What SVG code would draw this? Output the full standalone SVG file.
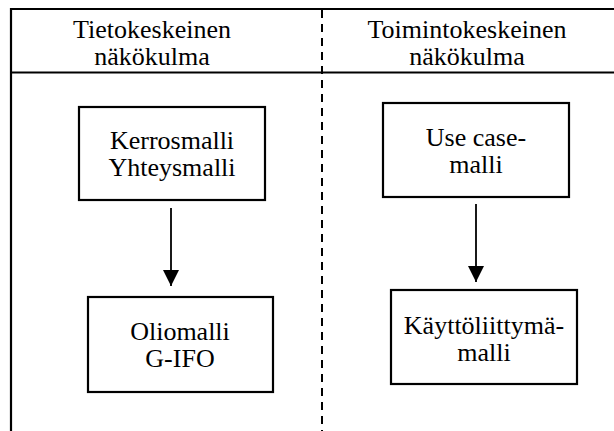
<svg xmlns="http://www.w3.org/2000/svg" width="614" height="431" viewBox="0 0 614 431">
<style>
  .frame { stroke: #000; stroke-width: 2.2; fill: none; }
  .dash { stroke: #000; stroke-width: 2; stroke-dasharray: 8 6; fill: none; }
  .box { stroke: #000; stroke-width: 2.2; fill: #fff; }
  .edge { stroke: #000; stroke-width: 1.8; fill: none; }
  .lbl { font-family: 'Liberation Serif', 'Times New Roman', serif; font-size: 26px; fill: #000; text-anchor: middle; }
</style>
<defs>
  <marker id="arrow" markerUnits="userSpaceOnUse" markerWidth="18" markerHeight="18" viewBox="0 0 16 18" refX="16" refY="8" orient="auto">
    <path d="M0,0 L16,8 L0,16 Z" fill="#000"/>
  </marker>
</defs>
<rect width="614" height="431" fill="#fff"/>
<g id="frame">
  <line class="frame" x1="11" y1="9" x2="614" y2="9"/>
  <line class="frame" x1="11" y1="72.5" x2="614" y2="72.5"/>
  <line class="frame" x1="11" y1="8" x2="11" y2="431"/>
  <line class="dash" x1="322" y1="10" x2="322" y2="431"/>
</g>
<g id="header-left" class="lbl">
  <text x="152" y="38">Tietokeskeinen</text>
  <text x="152" y="65">näkökulma</text>
</g>
<g id="header-right" class="lbl">
  <text x="467" y="38">Toimintokeskeinen</text>
  <text x="467" y="65">näkökulma</text>
</g>
<g id="connectors">
  <line class="edge" x1="171" y1="208" x2="171" y2="286" marker-end="url(#arrow)"/>
  <line class="edge" x1="476" y1="204" x2="476" y2="282" marker-end="url(#arrow)"/>
</g>
<g id="node-kerrosmalli">
  <rect class="box" x="79" y="107" width="186" height="93"/>
  <text class="lbl" x="172" y="149">Kerrosmalli</text>
  <text class="lbl" x="172" y="176">Yhteysmalli</text>
</g>
<g id="node-usecase">
  <rect class="box" x="383" y="103" width="186" height="94"/>
  <text class="lbl" x="476" y="146">Use case-</text>
  <text class="lbl" x="476" y="173">malli</text>
</g>
<g id="node-oliomalli">
  <rect class="box" x="88" y="297" width="185" height="95"/>
  <text class="lbl" x="180" y="340">Oliomalli</text>
  <text class="lbl" x="180" y="367">G-IFO</text>
</g>
<g id="node-kayttoliittyma">
  <rect class="box" x="391" y="290" width="186" height="94"/>
  <text class="lbl" x="484" y="334">Käyttöliittymä-</text>
  <text class="lbl" x="484" y="361">malli</text>
</g>
</svg>
